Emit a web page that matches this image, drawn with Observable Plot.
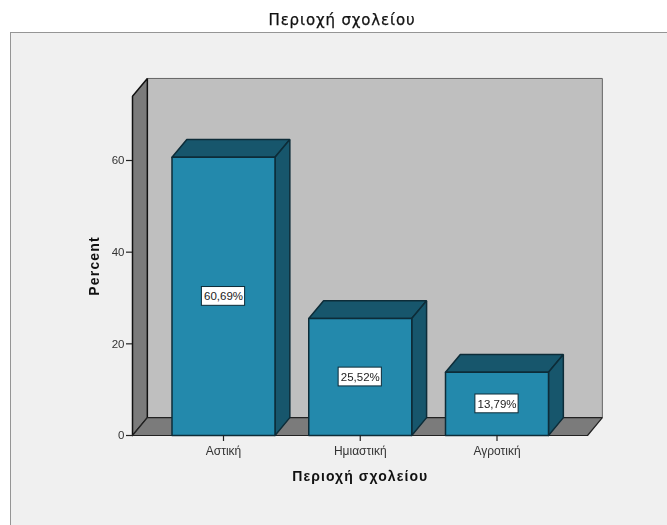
<!DOCTYPE html>
<html lang="el">
<head>
<meta charset="utf-8">
<script src="https://cdn.jsdelivr.net/npm/d3@7"></script>
<script src="https://cdn.jsdelivr.net/npm/@observablehq/plot@0.6"></script>
<style>
html,body{margin:0;padding:0;background:#fff;width:667px;height:525px;overflow:hidden;font-family:"Liberation Sans",Arial,sans-serif}
#title{position:absolute;left:0;top:11px;width:684px;text-align:center;font-family:"DejaVu Sans",sans-serif;font-size:15px;line-height:18px;color:#111;letter-spacing:.85px;-webkit-text-stroke:.25px #111;filter:blur(.3px)}
#panel{position:absolute;left:10px;top:32px;width:700px;height:520px;box-sizing:border-box;background:#f0f0f0;border:1.5px solid #959595}
#chart{position:absolute;left:11px;top:33px;filter:blur(.3px)}
#chart svg{background:transparent;overflow:visible}
</style>
</head>
<body>
<div id="panel"></div>
<div id="title">Περιοχή σχολείου</div>
<div id="chart"></div>
<script>
const categories = ["Αστική", "Ημιαστική", "Αγροτική"];
const percents = [60.69, 25.52, 13.79];
const valueLabels = ["60,69%", "25,52%", "13,79%"];
const yTicks = [0, 20, 40, 60];
const chartTitle = "Περιοχή σχολείου";
const yTitle = "Percent";

// Extent of the pseudo-3D box, in data units (category index / percent)
const halfBar = 0.3766, depthX = 0.1085, depthY = 3.9;
const wallLeft = -0.6654, wallRight = 2.662, wallTop = 74;
const boxHalfW = 0.158, boxHalfH = 2.05;

const poly = pts => [...pts, pts[0]].map(([x, y]) => ({x, y}));
const face = (pts, fill, stroke, strokeWidth) =>
  Plot.line(poly(pts), {x: "x", y: "y", fill, stroke, strokeWidth, strokeLinejoin: "miter", curve: "linear"});

const backWall = [[wallLeft+depthX,depthY],[wallRight+depthX,depthY],[wallRight+depthX,wallTop+depthY],[wallLeft+depthX,wallTop+depthY]];
const sideWall = [[wallLeft,0],[wallLeft+depthX,depthY],[wallLeft+depthX,wallTop+depthY],[wallLeft,wallTop]];
const floor = [[wallLeft,0],[wallRight,0],[wallRight+depthX,depthY],[wallLeft+depthX,depthY]];

const barFaces = percents.flatMap((v, i) => {
  const l = i - halfBar, r = i + halfBar;
  return [
    face([[l,v],[r,v],[r+depthX,v+depthY],[l+depthX,v+depthY]], "#17566c", "#0d2c38", 1.5),
    face([[r,0],[r+depthX,depthY],[r+depthX,v+depthY],[r,v]], "#17566c", "#0d2c38", 1.5),
    face([[l,0],[r,0],[r,v],[l,v]], "#2389ac", "#0d2c38", 1.5)
  ];
});

const table = categories.map((c, i) => ({i, v: percents[i], label: valueLabels[i]}));
const font = '"Liberation Sans",Arial,sans-serif';

const plot = Plot.plot({
  width: 656, height: 492,
  marginLeft: 121, marginRight: 0, marginTop: 0, marginBottom: 90,
  style: {fontFamily: font, background: "transparent"},
  x: {type: "linear", domain: [0, 2], range: [212, 485.5]},
  y: {domain: [0, 60], range: [402, 127]},
  marks: [
    face(backWall, "#bfbfbf", "#666", 1),
    face(sideWall, "#7b7b7b", "#111", 1.5),
    face(floor, "#7b7b7b", "#222", 1.2),
    ...barFaces,
    Plot.rect(table, {
      x1: d => d.i - boxHalfW, x2: d => d.i + boxHalfW,
      y1: d => d.v / 2 - boxHalfH, y2: d => d.v / 2 + boxHalfH,
      fill: "#fff", stroke: "#0d2c38", strokeWidth: 1
    }),
    Plot.text(table, {
      x: "i", y: d => d.v / 2, text: "label",
      fontSize: 11.5, fill: "#222", textAnchor: "middle", lineAnchor: "middle"
    }),
    Plot.axisX({
      ticks: [0, 1, 2], tickFormat: i => categories[i], tickSize: 6, tickPadding: 5,
      fontSize: 12, label: null, stroke: "#222", color: "#333", strokeWidth: 1.2
    }),
    Plot.axisY({
      ticks: yTicks, tickSize: 6, tickPadding: 2,
      fontSize: 11.5, label: null, stroke: "#222", color: "#333", strokeWidth: 1.2
    }),
    Plot.text([chartTitle], {
      x: () => 1, y: () => 0, dy: 41, text: d => d,
      fontSize: 14, fontWeight: "bold", fill: "#111", textAnchor: "middle", lineAnchor: "middle"
    }),
    Plot.text([yTitle], {
      frameAnchor: "left", y: () => 37, dx: -38, rotate: -90, text: d => d,
      fontSize: 14, fontWeight: "bold", fill: "#111", textAnchor: "middle", lineAnchor: "middle"
    })
  ]
});
plot.querySelectorAll("text").forEach(t => {
  if (t.textContent === chartTitle) t.style.letterSpacing = "1.1px";
  if (t.textContent === yTitle) t.style.letterSpacing = "1.2px";
});
document.getElementById("chart").append(plot);
</script>
</body>
</html>
